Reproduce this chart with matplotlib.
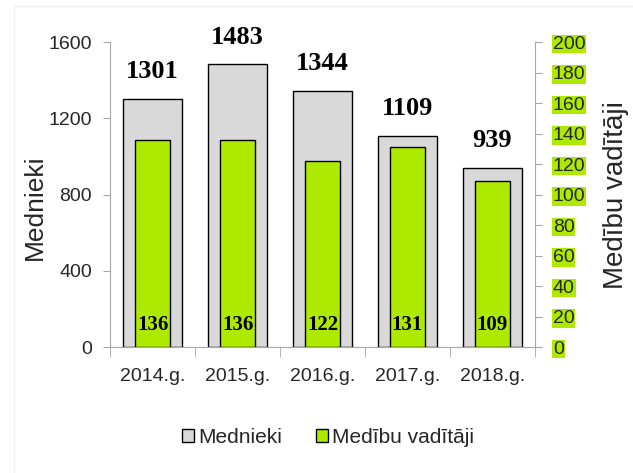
import matplotlib
matplotlib.use("Agg")
import matplotlib.pyplot as plt
import numpy as np
from matplotlib.lines import Line2D

plt.rcParams["font.family"] = ["Liberation Sans", "DejaVu Sans"]

years = ["2014.g.", "2015.g.", "2016.g.", "2017.g.", "2018.g."]
mednieki = [1301, 1483, 1344, 1109, 939]
vaditaji = [136, 136, 122, 131, 109]

grey = "#D9D9D9"
green = "#AEEA00"
axcol = "#A6A6A6"
txt = "#262626"

fig = plt.figure(figsize=(6.33, 4.73), dpi=100)
# faint outer frame (left and top edges)
fig.add_artist(Line2D([14/633, 14/633], [0, 1 - 6/473], transform=fig.transFigure, color="#F0F0F0", lw=0.8))
fig.add_artist(Line2D([14/633, 1], [1 - 6/473, 1 - 6/473], transform=fig.transFigure, color="#F0F0F0", lw=0.8))

ax = fig.add_axes([0.174, 0.266, 0.671, 0.645])
ax2 = ax.twinx()

x = np.arange(len(years))
b1 = ax.bar(x, mednieki, width=0.70, color=grey, edgecolor="black", linewidth=1.0, zorder=2, label="Mednieki")
b2 = ax2.bar(x, vaditaji, width=0.41, color=green, edgecolor="black", linewidth=1.0, zorder=3, label="Medību vadītāji")

ax.set_xlim(-0.5, len(years) - 0.5)
ax.set_ylim(0, 1600)
ax2.set_ylim(0, 200)
ax.set_yticks([0, 400, 800, 1200, 1600])
ax2.set_yticks(np.arange(0, 201, 20))

for a in (ax, ax2):
    a.spines["top"].set_visible(False)
for sp in [ax.spines["left"], ax.spines["bottom"], ax2.spines["right"]]:
    sp.set_color(axcol)
ax2.spines["left"].set_visible(False)
ax2.spines["bottom"].set_visible(False)
ax.spines["right"].set_visible(False)

ax.tick_params(axis="y", colors=axcol, labelcolor=txt, labelsize=14, length=5, pad=8)
ax2.tick_params(axis="y", colors=axcol, labelcolor=txt, labelsize=14, length=5, pad=8)
ax.set_xticks(x)
ax.set_xticklabels(years)
ax.tick_params(axis="x", length=0, labelsize=14, labelcolor=txt, pad=15)
ax.set_xticks(np.arange(-0.5, len(years), 1.0), minor=True)
ax.tick_params(axis="x", which="minor", length=7, color=axcol)

for lbl in ax2.get_yticklabels():
    lbl.set_bbox(dict(facecolor=green, edgecolor="none", pad=0.5))

ax.set_ylabel("Mednieki", fontsize=19, color=txt)
ax.yaxis.set_label_coords(-0.15, 0.46)
ax2.set_ylabel("Medību vadītāji", fontsize=20, color=txt)
ax2.yaxis.set_label_coords(1.16, 0.5)

for xi, v in zip(x, mednieki):
    ax.annotate(str(v), (xi, v), xytext=(0, 15), textcoords="offset points",
                ha="center", va="baseline", fontsize=19, fontweight="bold",
                family="Liberation Serif", color="black", zorder=6)
for xi, v in zip(x, vaditaji):
    ax2.annotate(str(v), (xi, 0), xytext=(0, 12.5), textcoords="offset points",
                 ha="center", va="baseline", fontsize=15, fontweight="bold",
                 family="Liberation Serif", color="black", zorder=6)

fig.legend(handles=[b1, b2], labels=["Mednieki", "Medību vadītāji"], loc="center",
           bbox_to_anchor=(328/633, 1 - 437/473), ncol=2, frameon=False, fontsize=15,
           handlelength=0.6, handleheight=0.6, handletextpad=0.2, columnspacing=1.6,
           labelcolor=txt)

fig.savefig("out.png", dpi=100)
